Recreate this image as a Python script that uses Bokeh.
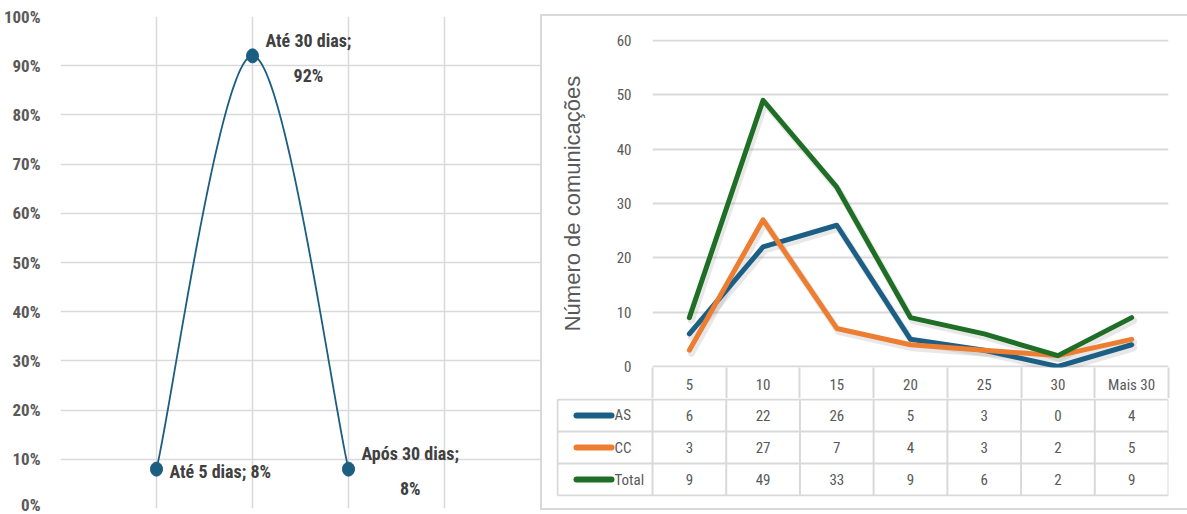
import numpy as np
from bokeh.plotting import figure
from bokeh.layouts import row, column
from bokeh.models import Range1d, FixedTicker, NumeralTickFormatter
from bokeh.core.properties import value
from bokeh.embed import file_html
from bokeh.resources import INLINE

# ---- data: share of communications by response time ----
prazo_labels = ["Até 5 dias", "Até 30 dias", "Após 30 dias"]
prazo_pos = [1, 2, 3]
prazo_share = [0.08, 0.92, 0.08]
prazo_wrap = [False, True, True]
pct_ticks = [i / 10 for i in range(11)]

# ---- data: communications per response-time bucket ----
dias = ["5", "10", "15", "20", "25", "30", "Mais 30"]
series_names = ["AS", "CC", "Total"]
as_vals = [6, 22, 26, 5, 3, 0, 4]
cc_vals = [3, 27, 7, 4, 3, 2, 5]
total_vals = [9, 49, 33, 9, 6, 2, 9]
count_ticks = [0, 10, 20, 30, 40, 50, 60]

NARROW = "Roboto Condensed, DejaVu Sans Condensed, Liberation Sans Narrow, Roboto"
SANS = "Liberation Sans"
GRID = "#d9d9d9"
TXT = "#595959"
LABEL_TXT = "#404040"
BLUE = "#1b5e82"
series_colors = ["#1c5f85", "#ed7d31", "#1f6e26"]


def smooth_curve(xs, ys, n=80):
    """Catmull-Rom spline through the given points (ends duplicated)."""
    pts = np.column_stack([xs, ys]).astype(float)
    ext = np.vstack([pts[0], pts, pts[-1]])
    t = np.linspace(0, 1, n)[:, None]
    h00 = 2 * t**3 - 3 * t**2 + 1
    h10 = t**3 - 2 * t**2 + t
    h01 = -2 * t**3 + 3 * t**2
    h11 = t**3 - t**2
    out = []
    for i in range(len(pts) - 1):
        p0, p1, p2, p3 = ext[i], ext[i + 1], ext[i + 2], ext[i + 3]
        m1 = (p2 - p0) / 2
        m2 = (p3 - p1) / 2
        out.append(h00 * p1 + h10 * m1 + h01 * p2 + h11 * m2)
    seg = np.vstack(out)
    return seg[:, 0], seg[:, 1]


# ================= left panel =================
left = figure(width=540, height=514, x_range=Range1d(0, 5), y_range=Range1d(0, 1),
              output_backend="svg", toolbar_location=None,
              min_border_left=58, min_border_right=0, min_border_top=16, min_border_bottom=6)
left.outline_line_color = None
left.xaxis.visible = False
ya = left.yaxis[0]
ya.ticker = FixedTicker(ticks=pct_ticks)
ya.formatter = NumeralTickFormatter(format="0%")
ya.axis_line_color = None
ya.major_tick_line_color = None
ya.minor_tick_line_color = None
ya.major_label_standoff = 14
ya.major_label_text_font = NARROW
ya.major_label_text_font_style = "bold"
ya.major_label_text_font_size = "17px"
ya.major_label_text_color = TXT
left.xgrid.ticker = FixedTicker(ticks=list(range(0, 6)))
left.ygrid.ticker = FixedTicker(ticks=pct_ticks)
for g in (left.xgrid, left.ygrid):
    g.grid_line_color = GRID
    g.grid_line_width = 1.5

cx, cy = smooth_curve(prazo_pos, prazo_share)
left.line(cx, cy, line_color=BLUE, line_width=1.8)
left.ellipse(x=prazo_pos, y=prazo_share, width=12, height=14,
             width_units="screen", height_units="screen",
             fill_color=BLUE, line_color=BLUE)

prazo_text = []
for name, share, wrap in zip(prazo_labels, prazo_share, prazo_wrap):
    sep = "\n" if wrap else " "
    prazo_text.append(f"{name};{sep}{round(share * 100)}%")
left.text(x=prazo_pos, y=prazo_share, text=prazo_text, anchor="center_left",
          text_align="center", x_offset=13, y_offset=2, text_line_height=1.7,
          text_font=value(NARROW), text_font_style="bold", text_font_size="18px",
          text_color=LABEL_TXT)

# ================= right panel: line chart with table header =================
PX_Y = 325 / 60          # pixels per communication on the value axis
COL_PX = 516 / len(dias)  # pixels per table column
HEADER_PX = 31            # height of the table header row
xs = list(range(1, len(dias) + 1))
bounds = [i + 0.5 for i in range(len(dias) + 1)]

chart = figure(width=645, height=382, x_range=Range1d(0.5, len(dias) + 0.5),
               y_range=Range1d(-1 / PX_Y, 60 + 1 / PX_Y),
               output_backend="svg", toolbar_location=None, frame_align=False,
               min_border_left=110, min_border_right=19, min_border_top=23,
               min_border_bottom=HEADER_PX)
chart.outline_line_color = None
chart.xgrid.visible = False

# value axis
cy_ax = chart.yaxis[0]
cy_ax.ticker = FixedTicker(ticks=count_ticks)
cy_ax.axis_line_color = None
cy_ax.major_tick_line_color = None
cy_ax.minor_tick_line_color = None
cy_ax.major_label_standoff = 15
cy_ax.major_label_text_font = NARROW
cy_ax.major_label_text_font_size = "15px"
cy_ax.major_label_text_color = TXT
cy_ax.axis_label = "Número de comunicações"
cy_ax.axis_label_text_font = SANS
cy_ax.axis_label_text_font_style = "normal"
cy_ax.axis_label_text_font_size = "22px"
cy_ax.axis_label_text_color = TXT
cy_ax.axis_label_standoff = 29
chart.ygrid.ticker = FixedTicker(ticks=count_ticks)
chart.ygrid.grid_line_color = GRID
chart.ygrid.grid_line_width = 2

# category axis doubles as the header row of the data table:
# minor ticks are the cell separators, labels sit back inside the row
cx_ax = chart.xaxis[0]
cx_ax.ticker = FixedTicker(ticks=xs, minor_ticks=bounds)
cx_ax.major_label_overrides = {x: d for x, d in zip(xs, dias)}
cx_ax.axis_line_color = None
cx_ax.major_tick_line_color = None
cx_ax.major_tick_out = 0
cx_ax.major_tick_in = 0
cx_ax.minor_tick_line_color = GRID
cx_ax.minor_tick_line_width = 2
cx_ax.minor_tick_in = 0
cx_ax.minor_tick_out = HEADER_PX
cx_ax.major_label_standoff = 8 - HEADER_PX
cx_ax.major_label_text_font = NARROW
cx_ax.major_label_text_font_size = "15px"
cx_ax.major_label_text_color = TXT

# soft drop shadow under each series, then the series
for vals in [as_vals, cc_vals, total_vals]:
    chart.line([x + 2 / COL_PX for x in xs], [v - 3 / PX_Y for v in vals],
               line_color="#7f7f7f", line_alpha=0.18, line_width=7,
               line_cap="round", line_join="round")
for vals, color in zip([as_vals, cc_vals, total_vals], series_colors):
    chart.line(xs, vals, line_color=color, line_width=5,
               line_cap="round", line_join="round")

# ================= right panel: data table body =================
ROW_PX = 32.25
leg_left = 0.5 - 95 / COL_PX
n_rows = len(series_names)
table = figure(width=645, height=110,
               x_range=Range1d(leg_left - 1 / COL_PX, len(dias) + 0.5),
               y_range=Range1d(n_rows + 0.5 + 1 / ROW_PX, 0.5 - 1 / ROW_PX),
               output_backend="svg", toolbar_location=None, frame_align=False,
               min_border_left=14, min_border_right=19, min_border_top=0, min_border_bottom=12)
table.outline_line_color = None
table.axis.visible = False
table.grid.visible = False

# column separators
table.segment(x0=bounds, y0=[0.5] * len(bounds), x1=bounds, y1=[n_rows + 0.5] * len(bounds),
              line_color=GRID, line_width=2)
table.segment(x0=[leg_left], y0=[0.5], x1=[leg_left], y1=[n_rows + 0.5],
              line_color=GRID, line_width=2)
# row separators
hy = [r + 0.5 for r in range(n_rows + 1)]
table.segment(x0=[leg_left] * len(hy), y0=hy, x1=[len(dias) + 0.5] * len(hy), y1=hy,
              line_color=GRID, line_width=2)

# value rows
cell_x, cell_y, cell_t = [], [], []
for r, vals in enumerate([as_vals, cc_vals, total_vals], start=1):
    for x, v in zip(xs, vals):
        cell_x.append(x)
        cell_y.append(r)
        cell_t.append(str(v))
table.text(x=cell_x, y=cell_y, text=cell_t, text_align="center", text_baseline="middle",
           text_font=value(NARROW), text_font_size="15px", text_color=TXT)

# legend keys
rows_idx = list(range(1, n_rows + 1))
table.segment(x0=[leg_left + 19 / COL_PX] * n_rows, y0=rows_idx,
              x1=[leg_left + 54 / COL_PX] * n_rows, y1=rows_idx,
              line_color=series_colors, line_width=6, line_cap="round")
table.text(x=[leg_left + 57 / COL_PX] * n_rows, y=rows_idx, text=series_names,
           text_align="left", text_baseline="middle",
           text_font=value(NARROW), text_font_size="15px", text_color=TXT)

right = column(chart, table, margin=(14, 0, 0, 0),
               styles={"border-left": f"2px solid {GRID}",
                       "border-top": f"2px solid {GRID}",
                       "border-bottom": f"2px solid {GRID}"})

page = row(left, right)
open("out.html", "w").write(file_html(page, INLINE))
